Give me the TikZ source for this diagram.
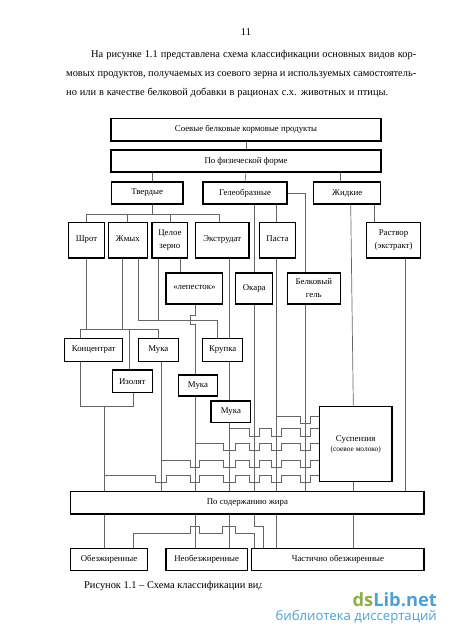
\documentclass[tikz,border=0pt]{standalone}
\usepackage{fontspec}
\setmainfont{Liberation Serif}
\newfontfamily\logofont{Open Sans}
\definecolor{logogreen}{HTML}{8FAE4C}
\definecolor{logoblue}{HTML}{4F9FD0}
\tikzset{
  box/.style={draw=black,line width=1.2pt,inner sep=0pt,align=center,font=\fontsize{8.8}{13}\selectfont},
  conn/.style={draw=black!60,line width=0.7pt},
  bodytext/.style={inner sep=0pt,anchor=base west,font=\fontsize{10.4}{12}\selectfont}
}
\newcommand{\hop}[2]{-- (#1,\ya) -- (#1,\yb) -- (#2,\yb) -- (#2,\ya)}
\newcommand{\up}[2]{\raisebox{#1pt}{#2}}
\begin{document}
\begin{tikzpicture}[x=1pt,y=-1pt]
  \useasboundingbox (0,0) rectangle (450,636);
  % page text
  \node[bodytext,anchor=base] (pagenum) at (246,36) {11};
  \node[bodytext] (lineA) at (91,57.5) {\makebox[325pt][s]{На рисунке 1.1 представлена схема классификации основных видов кор-}};
  \node[bodytext] (lineB) at (66,76.3) {\makebox[350pt][s]{мовых продуктов, получаемых из соевого зерна и используемых самостоятель-}};
  \node[bodytext] (lineC) at (66,95.5) {\makebox[322pt][s]{но или в качестве белковой добавки в рационах с.х. животных и птицы.}};
  % boxes
  \node[box,minimum width=270,minimum height=22.5] (top) at (246,129.8) {Соевые белковые кормовые продукты};
  \node[box,minimum width=270,minimum height=22] (phys) at (246,161) {По физической форме};
  \node[box,minimum width=71.7,minimum height=22] (solid) at (147.2,193) {Твердые};
  \node[box,minimum width=84,minimum height=22] (gel) at (245,193) {Гелеобразные};
  \node[box,minimum width=67,minimum height=22] (liq) at (347.2,193) {Жидкие};
  \node[box,minimum width=35.6,minimum height=35.3] (shrot) at (86.5,240.4) {\up{3}{Шрот}};
  \node[box,minimum width=39,minimum height=35.3] (zhmyh) at (127.8,240.4) {\up{3}{Жмых}};
  \node[box,minimum width=35.7,minimum height=35.3] (grain) at (169.9,240.4) {\up{-1}{Целое}\\\up{-1}{зерно}};
  \node[box,minimum width=53.7,minimum height=35.3] (extr) at (222.2,240.4) {\up{3}{Экструдат}};
  \node[box,minimum width=36.4,minimum height=35.3] (pasta) at (277.5,240.4) {\up{3}{Паста}};
  \node[box,minimum width=53.6,minimum height=35.3] (rastvor) at (393.5,240.4) {\up{-1}{Раствор}\\\up{-1}{(экстракт)}};
  \node[box,minimum width=56.7,minimum height=31] (petal) at (194.4,288.5) {\up{2}{«лепесток»}};
  \node[box,minimum width=37,minimum height=31] (okara) at (254.2,288.5) {\up{2}{Окара}};
  \node[box,minimum width=53,minimum height=31] (gelb) at (313.8,288.5) {Белковый\\гель};
  \node[box,minimum width=58,minimum height=22.3] (conc) at (93.7,350) {Концентрат};
  \node[box,minimum width=40,minimum height=22.3] (flourA) at (158.3,350) {Мука};
  \node[box,minimum width=40,minimum height=22.3] (grits) at (222.7,350) {Крупка};
  \node[box,minimum width=40,minimum height=22.7] (iso) at (132.3,381.4) {Изолят};
  \node[box,minimum width=39.4,minimum height=21] (flourB) at (198,385.5) {Мука};
  \node[box,minimum width=39.7,minimum height=21.3] (flourC) at (230.9,411.7) {Мука};
  \node[box,minimum width=72.7,minimum height=75.4] (susp) at (355.7,444) {\up{-1.5}{Суспензия}\\[-3pt]\up{-1.5}{\fontsize{7.4}{9}\selectfont (соевое молоко)}};
  \node[box,minimum width=353.3,minimum height=22.3] (fat) at (247.4,502.9) {По содержанию жира};
  \node[box,minimum width=76.6,minimum height=22] (nofat) at (109,559.3) {Обезжиренные};
  \node[box,minimum width=81.3,minimum height=22] (fatty) at (206.7,559.3) {Необезжиренные};
  \node[box,minimum width=172.3,minimum height=22] (partfat) at (337.9,559.3) {Частично обезжиренные};
  % helper lines
  \coordinate (vSolid) at (152.3,0);
  \coordinate (vLiq) at (340.3,0);
  \coordinate (vExtr) at (219.7,0);
  \coordinate (vPasta) at (276.3,0);
  \coordinate (vGelb) at (305.7,0);
  \coordinate (vRas) at (374,0);
  \coordinate (vRasB) at (405,0);
  \coordinate (vSusA) at (350.7,0);
  \coordinate (vSusB) at (353.3,0);
  \coordinate (vZhA) at (122.3,0);
  \coordinate (vZhB) at (138.3,0);
  \coordinate (vGrA) at (158.3,0);
  \coordinate (vGrB) at (180.3,0);
  \coordinate (vCrA) at (217,0);
  \coordinate (vCrB) at (229.5,0);
  \coordinate (vPet) at (195.5,0);
  \coordinate (vConc) at (80.3,0);
  \coordinate (vIsoA) at (129,0);
  \coordinate (vIsoB) at (133.7,0);
  \coordinate (vMain) at (104.2,0);
  \coordinate (vFlA) at (161,0);
  \coordinate (vPart) at (254.7,0);
  \coordinate (vPartB) at (263.7,0);
  \coordinate (busA) at (152.3,214);
  \coordinate (busB) at (80.3,329.7);
  \coordinate (busC) at (138.3,320.3);
  \coordinate (busD) at (80.3,406.7);
  % upper part
  \draw[conn] (top.south) -- (phys.north);
  \draw[conn] (phys.south -| vSolid) -- (solid.north -| vSolid);
  \draw[conn] (phys.south) -- (gel.north);
  \draw[conn] (phys.south -| vLiq) -- (liq.north -| vLiq);
  \draw[conn] (solid.south -| vSolid) -- (busA);
  \draw[conn] (busA -| shrot) -- (busA -| vExtr) -- (extr.north -| vExtr);
  \foreach \n in {shrot,zhmyh,grain}
    \draw[conn] (busA -| \n.north) -- (\n.north);
  \draw[conn] (gel.south -| okara) -- (okara.north);
  \draw[conn] (gel.south -| vPasta) -- (pasta.north -| vPasta);
  \draw[conn] (gel.east) -| (gelb.north -| vGelb);
  \draw[conn] (liq.south -| vSusA) -- (susp.north -| vSusB);
  \draw[conn] (liq.south -| vRas) -- (rastvor.north -| vRas);
  \draw[conn] (rastvor.south -| vRasB) -- (fat.north -| vRasB);
  % middle part
  \draw[conn] (shrot.south) -- (busB -| shrot);
  \draw[conn] (zhmyh.south -| vZhA) -- (busB -| vZhA);
  \draw[conn] (zhmyh.south -| vZhB) -- (busC -| vZhB);
  \draw[conn] (grain.south -| vGrA) -- (busC -| vGrA);
  \draw[conn] (grain.south -| vGrB) -- (petal.north -| vGrB);
  \draw[conn] (busC) -- (busC -| vCrA) -- (grits.north -| vCrA);
  \draw[conn] (extr.south -| vCrB) -- (grits.north -| vCrB);
  \draw[conn] (grits.south -| vCrB) -- (flourC.north -| vCrB);
  \draw[conn] (petal.south -| vPet) -- (195.5,315) -- (190.3,315) -- (190.3,324.5) -- (195.5,324.5) -- (flourB.north -| vPet);
  \draw[conn] (conc.north -| vConc) -- (busB) -- (busB -| flourA) -- (flourA.north);
  \draw[conn] (busB -| vIsoA) -- (iso.north -| vIsoA);
  \draw[conn] (conc.south -| vConc) -- (busD) -- (busD -| vIsoB) -- (iso.south -| vIsoB);
  % into the fat box
  \draw[conn] (busD -| vMain) -- (fat.north -| vMain);
  \draw[conn] (flourA.south -| vFlA) -- (fat.north -| vFlA);
  \draw[conn] (flourB.south -| vPet) -- (fat.north -| vPet);
  \draw[conn] (flourC.south -| vCrB) -- (fat.north -| vCrB);
  \draw[conn] (okara.south) -- (fat.north -| okara);
  \draw[conn] (pasta.south -| vPasta) -- (fat.north -| vPasta);
  \draw[conn] (gelb.south -| vGelb) -- (fat.north -| vGelb);
  \draw[conn] (susp.south -| vSusB) -- (fat.north -| vSusB);
  % rows into the suspension box
  \def\ya{416}\def\yb{423.3}
  \coordinate (rowA) at (276.3,\ya);
  \draw[conn] (rowA) \hop{300.7}{310} -- (rowA -| susp.west);
  \def\ya{428.7}\def\yb{436}
  \coordinate (rowB) at (229.5,\ya);
  \draw[conn] (rowB) \hop{249.3}{259.3} \hop{271.7}{281.7} \hop{300.7}{310} -- (rowB -| susp.west);
  \def\ya{443.3}\def\yb{450.7}
  \coordinate (rowC) at (195.5,\ya);
  \draw[conn] (rowC) \hop{223}{235.7} \hop{249.3}{259.3} \hop{271.7}{281.7} \hop{300.7}{310} -- (rowC -| susp.west);
  \def\ya{460}\def\yb{467.7}
  \coordinate (rowD) at (161,\ya);
  \draw[conn] (rowD) \hop{190.7}{199.3} \hop{223}{235.7} \hop{249.3}{259.3} \hop{271.7}{281.7} \hop{300.7}{310} -- (rowD -| susp.west);
  \def\ya{475.3}\def\yb{482}
  \coordinate (rowE) at (104.2,\ya);
  \draw[conn] (rowE) \hop{155}{166} \hop{190.7}{199.3} \hop{223}{235.7} \hop{249.3}{259.3} \hop{271.7}{281.7} \hop{300.7}{310} -- (rowE -| susp.west);
  % lower part
  \draw[conn] (fat.south -| vMain) -- (nofat.north -| vMain);
  \draw[conn] (fat.south -| vPet) -- (fatty.north -| vPet);
  \draw[conn] (fat.south -| vCrB) -- (fatty.north -| vCrB);
  \draw[conn] (fat.south -| vPart) -- (vPart |- 0,526) -- (vPartB |- 0,526) -- (partfat.north -| vPartB);
  \draw[conn] (fat.south -| vPasta) -- (partfat.north -| vPasta);
  \draw[conn] (fat.south -| vSusB) -- (partfat.north -| vSusB);
  \def\ya{533.3}\def\yb{526}
  \coordinate (rowF) at (133.7,\ya);
  \draw[conn] (nofat.north -| rowF) -- (rowF) \hop{190.7}{199.3} \hop{222.7}{235.7} -- (rowF -| vPart) -- (partfat.north -| vPart);
  % caption, cut off as in the scan
  \begin{scope}
    \clip (80,575) rectangle (261.5,596);
    \node[bodytext] (caption) at (84,588) {Рисунок 1.1 – Схема классификации вид};
  \end{scope}
  % watermark
  \node[inner sep=0pt,anchor=base east,font=\logofont\bfseries\fontsize{18.3}{20}\selectfont] (logo) at (437,606) {\textcolor{logogreen}{ds}\textcolor{logoblue}{Lib.net}};
  \node[inner sep=0pt,anchor=base east,text=logoblue,font=\logofont\fontsize{13.2}{16}\selectfont] (logosub) at (437,620) {библиотека диссертаций};
\end{tikzpicture}
\end{document}
